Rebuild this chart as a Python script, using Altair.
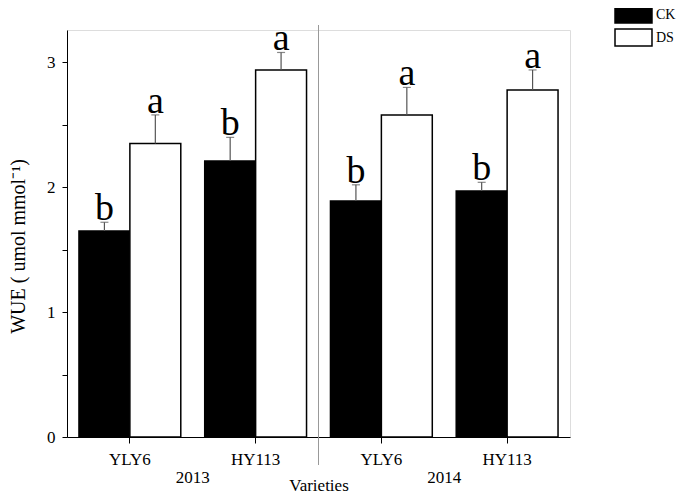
import altair as alt
import pandas as pd

categories = ["2013-YLY6", "2013-HY113", "2014-YLY6", "2014-HY113"]
treatments = ["CK", "DS"]
ck_values = [1.65, 2.21, 1.89, 1.97]
ds_values = [2.35, 2.94, 2.58, 2.78]
ck_errors = [0.07, 0.19, 0.13, 0.07]
ds_errors = [0.23, 0.14, 0.22, 0.16]
ck_letters = ["b", "b", "b", "b"]
ds_letters = ["a", "a", "a", "a"]
years = ["2013", "2014"]
year_positions = [1, 3]
divider_positions = [2]

rows = []
for i, c in enumerate(categories):
    rows.append({"cat": c, "treat": "CK", "value": ck_values[i], "err": ck_errors[i],
                 "top": ck_values[i] + ck_errors[i], "letter": ck_letters[i]})
    rows.append({"cat": c, "treat": "DS", "value": ds_values[i], "err": ds_errors[i],
                 "top": ds_values[i] + ds_errors[i], "letter": ds_letters[i]})
df = pd.DataFrame(rows)

FONT = "Liberation Serif"
W, H = 503, 407

x_enc = alt.X("cat:N", sort=categories,
              scale=alt.Scale(domain=categories, paddingInner=0, paddingOuter=0),
              axis=alt.Axis(title="Varieties", labelExpr="split(datum.label, '-')[1]",
                            labelAngle=0, labelPadding=8, tickSize=6, titlePadding=10))
xo_enc = alt.XOffset("treat:N", sort=treatments,
                     scale=alt.Scale(domain=treatments, paddingInner=0, paddingOuter=0.235))
y_scale = alt.Scale(domain=[0, 3.26], nice=False, zero=True)

base = alt.Chart(df)

bars = base.mark_bar(stroke="black", strokeWidth=1.5).encode(
    x=x_enc,
    xOffset=xo_enc,
    y=alt.Y("value:Q", scale=y_scale,
            axis=alt.Axis(title="WUE ( umol mmol⁻¹)", values=[0, 0.5, 1, 1.5, 2, 2.5, 3],
                          labelExpr="datum.value % 1 == 0 ? format(datum.value, 'd') : ''",
                          tickSize=5, labelPadding=7, titlePadding=18, titleFontSize=20,
                          titleY=216)),
    fill=alt.Fill("treat:N",
                  scale=alt.Scale(domain=treatments, range=["black", "white"]),
                  legend=alt.Legend(title=None, orient="none", legendX=557, legendY=-25,
                                    symbolType="M-2.176,-1L2.176,-1L2.176,1L-2.176,1Z",
                                    symbolSize=289, symbolStrokeColor="black",
                                    symbolStrokeWidth=1.5, labelFont=FONT, labelFontSize=14,
                                    labelColor="black", rowPadding=0, labelOffset=13,
                                    padding=0)),
)

err_rule = base.mark_rule(color="#555555", strokeWidth=1.2).encode(
    x=alt.X("cat:N", sort=categories), xOffset=alt.XOffset("treat:N", sort=treatments),
    y=alt.Y("value:Q"), y2="top:Q")

err_cap = base.mark_tick(color="#555555", orient="horizontal", size=8, thickness=1.2).encode(
    x=alt.X("cat:N", sort=categories), xOffset=alt.XOffset("treat:N", sort=treatments),
    y=alt.Y("top:Q"))

letters = base.mark_text(font=FONT, fontSize=38, baseline="alphabetic", dy=-2, color="black").encode(
    x=alt.X("cat:N", sort=categories), xOffset=alt.XOffset("treat:N", sort=treatments),
    y=alt.Y("top:Q"), text="letter:N")

main = alt.layer(bars, err_rule, err_cap, letters)

ydf = pd.DataFrame({"year": years, "pos": year_positions})
ddf = pd.DataFrame({"pos": divider_positions})
qx = alt.Scale(domain=[0, 4], nice=False, zero=True)

year_text = alt.Chart(ydf).mark_text(font=FONT, fontSize=17, color="black", baseline="alphabetic").encode(
    x=alt.X("pos:Q", scale=qx, axis=alt.Axis(orient="bottom", values=[0, 1, 2, 3, 4], labels=False,
                                             tickSize=4, domain=False, title=None)),
    y=alt.value(H + 46), text="year:N")

divider = alt.Chart(ddf).mark_rule(color="#999999", strokeWidth=1).encode(
    x=alt.X("pos:Q", scale=qx, axis=None), y=alt.value(-5), y2=alt.value(H + 28))

secondary = alt.layer(year_text, divider)

chart = alt.layer(main, secondary).resolve_scale(x="independent").properties(
    width=W, height=H,
    autosize=alt.AutoSizeParams(type="none"),
    padding={"left": 59, "top": 22, "right": 107, "bottom": 57},
).configure_view(stroke=None).configure(background="white").configure_axis(
    labelFont=FONT, labelFontSize=17, labelColor="black",
    titleFont=FONT, titleFontSize=17, titleFontWeight="normal", titleColor="black",
    tickColor="black", domainColor="black", grid=False,
)

chart.save("out.html", embed_options={"renderer": "svg", "actions": False})
